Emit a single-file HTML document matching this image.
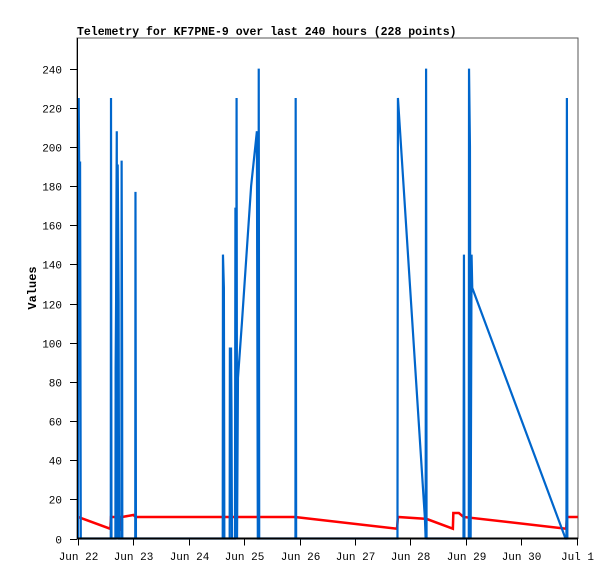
<!DOCTYPE html>
<html><head><meta charset="utf-8"><style>
body{margin:0;background:#fff;}
svg{display:block;font-family:"Liberation Mono",monospace;}
</style></head><body>
<svg id="chart" width="615" height="579" viewBox="0 0 615 579">
<text x="77" y="35" font-size="11.5" font-weight="bold">Telemetry for KF7PNE-9 over last 240 hours (228 points)</text>
<text transform="translate(36,288) rotate(-90)" text-anchor="middle" font-size="12" font-weight="bold">Values</text>
<g id="plot"></g>
</svg>
<script>
const yTicks=[0,20,40,60,80,100,120,140,160,180,200,220,240];
const xTickLabels=["Jun 22","Jun 23","Jun 24","Jun 25","Jun 26","Jun 27","Jun 28","Jun 29","Jun 30","Jul 1"];
const blueHours=[0,0.3,0.5,0.9,1.2,14.2,14.3,14.5,16.2,16.3,16.5,16.6,16.8,17.0,17.2,17.4,17.6,17.8,18.8,18.9,19.1,19.2,24.8,24.9,25.1,62.7,62.8,63.2,63.4,65.7,65.8,66.3,66.5,66.7,68.0,68.2,68.5,68.7,68.9,69.3,71,73,75,77.5,77.9,78.2,78.3,78.5,94.2,94.3,94.5,138.4,138.6,150.3,150.6,150.8,151.0,167.0,167.2,167.4,169.3,169.4,169.8,170.1,170.5,170.8,211.2,211.6,211.8,212.0];
const blueValues=[0,225,192,192,0,0,225,0,0,87,121,156,208,0,191,156,121,0,0,193,97,0,0,177,0,0,145,128,0,0,97,97,65,0,0,169,0,225,0,82,110,145,180,208,0,0,240,0,0,225,0,0,225,10,0,240,0,0,145,0,0,240,200,0,145,128,0,0,225,0];
const redHours=[0,13.9,14.0,14.3,16.9,18.3,18.4,19.1,24,25,94,138.2,138.6,151,162.4,162.6,165,167,211.5,211.8,216.5];
const redValues=[11,5,5,11,11,4,11,11,12,11,11,5,11,10,5,13,13,11,5,11,11];
const L=77,R=578,T=38,B=538.5,X0=78,PXH=2.3083,PYU=1.958;
const xs=h=>X0+h*PXH, ys=v=>B-v*PYU;
const NS="http://www.w3.org/2000/svg";
const g=document.getElementById('plot');
function mk(t,a){const e=document.createElementNS(NS,t);for(const k in a)e.setAttribute(k,a[k]);g.appendChild(e);return e;}
const frame=mk('rect',{x:L,y:T,width:R-L,height:B-T,fill:'none',stroke:'#555','stroke-width':1});


yTicks.forEach(v=>{
 const y=Math.round(ys(v))+0.5;
 const t=mk('line',{x1:70,x2:L,y1:y,y2:y,stroke:'#000'});
 
 
 const l=mk('text',{x:62,y:y+4,'text-anchor':'end','font-size':11});
 
 
 l.textContent=v;
});
xTickLabels.forEach((s,i)=>{
 const x=Math.round(xs(i*24))+0.5;
 const t=mk('line',{x1:x,x2:x,y1:B,y2:B+7,stroke:'#000'});
 
 
 const l=mk('text',{x:x,y:560,'text-anchor':'middle','font-size':11});
 
 
 l.textContent=s;
});
const red=mk('polyline',{points:redHours.map((h,i)=>xs(h)+','+ys(redValues[i])).join(' '),fill:'none',stroke:'#ff0000','stroke-width':2.5});


const blue=mk('polyline',{points:blueHours.map((h,i)=>xs(h)+','+ys(blueValues[i])).join(' '),fill:'none',stroke:'#0066cc','stroke-width':2.2});


const xa=mk('line',{x1:L,x2:R,y1:B,y2:B,stroke:'#000','stroke-width':2});


const ya=mk('line',{x1:L+0.5,x2:L+0.5,y1:T,y2:B,stroke:'#000','stroke-width':1});


</script>
</body></html>
